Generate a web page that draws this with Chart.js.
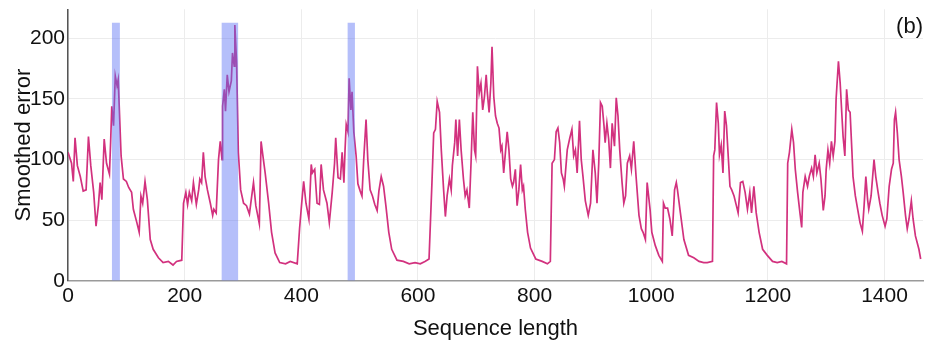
<!DOCTYPE html>
<html>
<head>
<meta charset="utf-8">
<script src="https://cdn.jsdelivr.net/npm/chart.js@4.4.1/dist/chart.umd.min.js"></script>
<style>
  html, body { margin: 0; padding: 0; background: #fff; }
  #wrap { width: 928px; height: 340px; }
</style>
</head>
<body>
<div id="wrap"><canvas id="errChart" width="928" height="340"></canvas></div>
<script>
// sequence position / smoothed error trace (vertices of the curve)
const seqLength = [
  0, 6, 9, 12, 16, 21, 26, 31, 35, 39, 44, 48, 52, 55, 58,
  62, 66, 71, 73, 75, 78, 81, 84, 86, 88, 91, 95, 100, 104, 109,
  112, 118, 122, 125, 128, 132, 136, 141, 146, 155, 163, 172, 180, 186, 195,
  198, 202, 205, 208, 212, 215, 220, 224, 226, 229, 232, 235, 239, 244, 248,
  250, 254, 258, 261, 264, 265, 268, 270, 273, 276, 280, 282, 285, 286, 289,
  292, 296, 301, 306, 311, 315, 318, 322, 328, 331, 335, 338, 344, 349, 355,
  363, 373, 381, 393, 397, 401, 404, 408, 413, 417, 419, 423, 427, 431, 434,
  438, 444, 448, 453, 457, 459, 463, 467, 470, 473, 475, 477, 480, 482, 485,
  487, 490, 494, 497, 501, 504, 507, 511, 514, 518, 522, 526, 530, 533, 537,
  541, 545, 550, 555, 564, 575, 585, 595, 604, 612, 619, 624, 627, 630, 633,
  637, 640, 644, 647, 650, 654, 657, 659, 663, 665, 668, 671, 674, 678, 681,
  684, 688, 691, 694, 697, 699, 702, 705, 708, 711, 714, 717, 719, 722, 725,
  727, 730, 733, 736, 739, 742, 744, 747, 750, 753, 756, 759, 762, 764, 767,
  770, 773, 776, 779, 781, 784, 788, 793, 802, 813, 822, 827, 830, 834, 837,
  840, 843, 846, 849, 851, 856, 860, 864, 867, 870, 873, 877, 880, 883, 887,
  892, 896, 900, 904, 907, 910, 913, 916, 919, 921, 924, 927, 930, 933, 937,
  940, 943, 946, 950, 953, 956, 959, 963, 966, 970, 974, 979, 983, 986, 990,
  993, 998, 1001, 1007, 1013, 1019, 1021, 1024, 1028, 1032, 1036, 1040, 1043, 1045, 1050,
  1056, 1064, 1073, 1082, 1090, 1096, 1105, 1107, 1109, 1112, 1115, 1117, 1120, 1123, 1126,
  1129, 1132, 1135, 1138, 1142, 1146, 1149, 1153, 1157, 1161, 1165, 1169, 1172, 1176, 1180,
  1185, 1191, 1199, 1208, 1216, 1224, 1232, 1234, 1237, 1241, 1244, 1247, 1251, 1255, 1258,
  1260, 1264, 1268, 1271, 1275, 1278, 1281, 1284, 1288, 1291, 1295, 1298, 1300, 1303, 1306,
  1309, 1312, 1315, 1317, 1321, 1324, 1327, 1329, 1332, 1335, 1338, 1341, 1344, 1346, 1350,
  1354, 1358, 1362, 1365, 1368, 1371, 1373, 1377, 1382, 1385, 1389, 1392, 1396, 1401, 1404,
  1408, 1412, 1415, 1417, 1419, 1422, 1425, 1429, 1432, 1436, 1439, 1442, 1446, 1449, 1453,
  1459, 1462
];
const smoothedError = [
  106, 97, 82, 118, 95, 86, 74, 75, 119, 95, 73, 45, 62, 81, 67,
  117, 97, 88, 114, 144, 128, 169, 161, 166, 141, 103, 84, 82, 77, 73,
  59, 48, 40, 70, 64, 82, 67, 34, 26, 19, 15, 16, 13, 16, 17,
  64, 73, 63, 73, 66, 81, 63, 75, 84, 81, 106, 86, 75, 64, 54,
  59, 56, 100, 115, 100, 144, 158, 140, 170, 156, 165, 188, 177, 211, 180,
  106, 75, 64, 62, 55, 70, 81, 62, 47, 115, 100, 89, 64, 40, 23,
  15, 14, 16, 14, 43, 66, 82, 64, 51, 96, 89, 92, 64, 63, 96,
  75, 64, 48, 73, 97, 118, 85, 84, 106, 81, 108, 129, 123, 167, 141,
  156, 123, 103, 80, 74, 70, 100, 133, 100, 75, 70, 63, 58, 74, 86,
  78, 62, 40, 26, 17, 16, 14, 15, 14, 16, 18, 81, 122, 125, 148,
  139, 108, 75, 53, 70, 84, 75, 95, 114, 133, 103, 133, 108, 84, 70,
  75, 60, 97, 139, 108, 103, 177, 155, 163, 141, 152, 170, 155, 139, 163,
  193, 152, 136, 130, 126, 108, 111, 89, 106, 123, 108, 84, 78, 81, 92,
  62, 75, 96, 75, 78, 59, 40, 27, 18, 16, 14, 16, 97, 100, 123,
  126, 114, 89, 84, 78, 108, 117, 125, 103, 108, 89, 132, 100, 86, 66,
  54, 64, 108, 89, 64, 97, 147, 144, 128, 114, 130, 117, 93, 130, 111,
  151, 136, 108, 81, 64, 70, 97, 103, 92, 115, 86, 54, 43, 40, 34,
  81, 59, 40, 29, 21, 16, 64, 60, 60, 51, 37, 75, 81, 75, 56,
  34, 21, 19, 16, 15, 15, 16, 103, 108, 147, 130, 104, 112, 89, 140,
  128, 103, 78, 75, 70, 62, 56, 81, 82, 73, 59, 73, 56, 78, 56,
  40, 26, 21, 16, 15, 16, 14, 97, 106, 125, 114, 92, 73, 56, 44,
  73, 86, 78, 86, 93, 86, 104, 89, 97, 84, 58, 70, 92, 108, 97,
  115, 103, 115, 150, 181, 163, 136, 119, 103, 158, 141, 139, 108, 86, 70,
  59, 48, 41, 62, 86, 67, 59, 70, 100, 86, 73, 64, 54, 45, 51,
  78, 92, 97, 133, 139, 122, 100, 86, 73, 54, 43, 51, 66, 51, 37,
  26, 18
];

// flagged anomaly windows
const anomalyStart = [75, 263, 479];
const anomalyEnd = [89, 292, 492];
const anomalyTop = 213;

const xTicks = [0, 200, 400, 600, 800, 1000, 1200, 1400];
const yTicks = [0, 50, 100, 150, 200];

const FONT = '"Liberation Sans", Arial, sans-serif';

const datasets = [{
  label: 'Smoothed error',
  data: seqLength.map((x, i) => ({ x: x, y: smoothedError[i] })),
  borderColor: '#d2317e',
  borderWidth: 1.7,
  pointRadius: 0,
  tension: 0,
  fill: false,
  order: 2
}];

anomalyStart.forEach((s, i) => {
  datasets.push({
    label: 'anomaly ' + (i + 1),
    data: [{ x: s, y: anomalyTop }, { x: anomalyEnd[i], y: anomalyTop }],
    backgroundColor: 'rgba(92, 112, 245, 0.45)',
    borderWidth: 0,
    pointRadius: 0,
    fill: 'origin',
    order: 0
  });
});

// panel tag in the upper right corner
const panelTag = {
  id: 'panelTag',
  afterDraw(chart) {
    const { ctx, chartArea } = chart;
    ctx.save();
    ctx.font = '22px ' + FONT;
    ctx.fillStyle = '#111';
    ctx.textAlign = 'right';
    ctx.textBaseline = 'middle';
    ctx.fillText('(b)', chartArea.right, chartArea.top + 18);
    ctx.restore();
  }
};

new Chart(document.getElementById('errChart').getContext('2d'), {
  type: 'line',
  data: { datasets: datasets },
  plugins: [panelTag],
  options: {
    responsive: false,
    animation: false,
    layout: { padding: { left: 0, right: 5, top: 8, bottom: 0 } },
    plugins: {
      legend: { display: false },
      tooltip: { enabled: false }
    },
    scales: {
      x: {
        type: 'linear',
        min: 0,
        max: 1466,
        afterBuildTicks: axis => { axis.ticks = xTicks.map(v => ({ value: v })); },
        ticks: {
          color: '#111',
          font: { family: FONT, size: 21 },
          padding: 3,
          maxRotation: 0,
          callback: v => String(v)
        },
        grid: { color: '#ececec', drawTicks: false },
        border: { color: '#9a9a9a', width: 1.5 },
        title: {
          display: true,
          text: 'Sequence length',
          color: '#111',
          font: { family: FONT, size: 22, lineHeight: 1 },
          padding: { top: 6, bottom: 0 }
        }
      },
      y: {
        min: 0,
        max: 224,
        afterBuildTicks: axis => { axis.ticks = yTicks.map(v => ({ value: v })); },
        ticks: {
          color: '#111',
          font: { family: FONT, size: 21, lineHeight: 0.6 },
          padding: 3,
          callback: v => String(v)
        },
        grid: { color: '#ececec', drawTicks: false },
        border: { color: '#555', width: 1.5 },
        title: {
          display: true,
          text: 'Smoothed error',
          color: '#111',
          font: { family: FONT, size: 22, lineHeight: 1 },
          padding: { top: 13, bottom: -8 }
        }
      }
    }
  }
});
</script>
</body>
</html>
